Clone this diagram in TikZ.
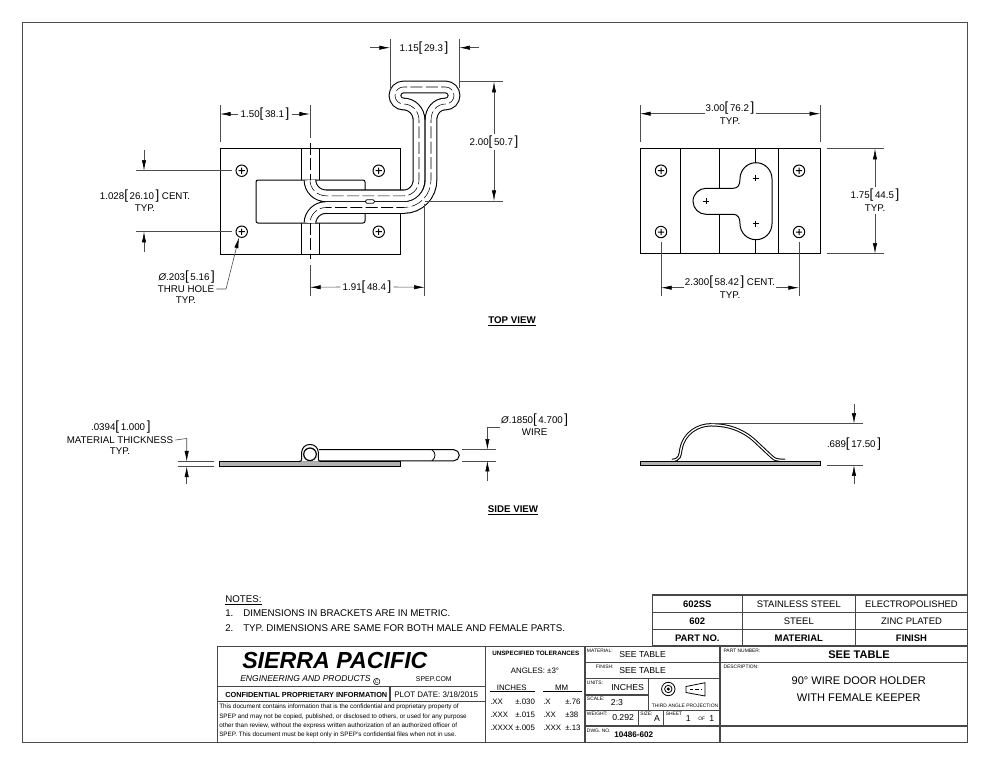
\documentclass[tikz,border=0pt]{standalone}
\usepackage{fontspec}
\setmainfont{Liberation Sans}
\usetikzlibrary{arrows.meta}
\newcommand{\fsz}[1]{\fontsize{#1}{#1}\selectfont}
\newcommand{\dimtxt}[2]{#1{\fsz{10}[}\,#2\,{\fsz{10}]}}
\newcommand{\wirepath}{(310,180) .. controls (310,188.8) and (317.2,195.8) .. (326,195.8) -- (404,195.8)
	.. controls (412.5,195.8) and (419,188.5) .. (419,180) -- (419,120)
	.. controls (419,111) and (412,104) .. (403.5,104) .. controls (398.8,104) and (395,100.2) .. (395,95.5)
	.. controls (395,90.8) and (398.8,87) .. (403.5,87) -- (445.5,87)
	.. controls (450.2,87) and (454,90.8) .. (454,95.5) .. controls (454,100.2) and (450.2,104) .. (445.5,104)
	.. controls (437,104) and (431,111) .. (431,120) -- (431,180)
	.. controls (431,195) and (419,207.5) .. (404,207.5) -- (326,207.5)
	.. controls (317.2,207.5) and (310,214.8) .. (310,223)}
\tikzset{
	part/.style={line width=.75pt},
	wire/.style={double=white,double distance=7.9pt,line width=.8pt},
	sheet/.style={double=white,double distance=1pt,line width=.75pt},
	hidden/.style={line width=.4pt,dash pattern=on 9pt off 2.5pt},
	ext/.style={line width=.45pt,black!70},
	dimarrow/.style={line width=.45pt,black!70,-{Latex[length=8pt,width=3.2pt,black]}},
	grid/.style={line width=.8pt,black!72},
	lbl/.style={inner sep=1.5pt,font=\fsz{7.3}},
	tiny/.style={inner sep=0pt,anchor=west,font=\fsz{3.7}},
	fine/.style={inner sep=0pt,anchor=west,font=\fsz{4.75}},
	tol/.style={inner sep=0pt,anchor=west,font=\fsz{5.9}},
	cell/.style={inner sep=0pt,font=\fsz{7.1}},
	cellb/.style={inner sep=0pt,font=\fsz{7.1}\bfseries}
}
\begin{document}
\begin{tikzpicture}[x=.75pt,y=-.75pt]
	\useasboundingbox (0,0) rectangle (990,765);
	\draw [line width=.7pt,black!70] (22.5,22.5) rectangle (967.3,742.5);

	% top view, male part
	\draw [part] (220,148) rectangle (400,254);
	\draw [part] (301,148) -- (301,180) (319,148) -- (319,180);
	\draw [part] (301,223) -- (301,254) (319,223) -- (319,254);
	\draw [part,rounded corners=1.5pt,fill=white] (256,180) rectangle (365,223);
	\foreach \x/\y in {241.7/170.7,378.7/170.7,241.7/231.7,378.7/231.7,661/170.7,799/170.7,661/232,799/232}
		\draw [part] (\x,\y) circle (5.7) (\x-3.2,\y) -- (\x+3.2,\y) (\x,\y-3.2) -- (\x,\y+3.2);
	\draw [wire] \wirepath;
	\draw [hidden] \wirepath;
	\draw [hidden] (310,143) -- (310,180) (310,223) -- (310,259);
	\draw [part,line width=.5pt,fill=white,rounded corners=1pt] (365.5,199.8) rectangle (374.5,203.2);

	% top view, keeper
	\draw [part] (640,148.7) rectangle (820.3,253.7);
	\draw [part] (680,148.7) -- (680,253.7) (778,148.7) -- (778,253.7);
	\draw [part] (719,148.7) -- (719,188.3) (719,214.3) -- (719,253.7);
	\draw [part] (755.7,148.7) -- (755.7,162.7) (755.7,239.7) -- (755.7,253.7);
	\draw [part] (706,188.3) -- (733,188.3) .. controls (738,188.3) and (740,185) .. (740,179)
		.. controls (740,170) and (747,162.7) .. (756,162.7) .. controls (765,162.7) and (772,170) .. (772,179)
		-- (772,223.7) .. controls (772,232.5) and (765,239.7) .. (756,239.7) .. controls (747,239.7) and (740,232.5) .. (740,223.7)
		.. controls (740,218) and (738,214.3) .. (733,214.3) -- (706,214.3)
		.. controls (699,214.3) and (693,208.5) .. (693,201.3) .. controls (693,194) and (699,188.3) .. (706,188.3) -- cycle;
	\foreach \x/\y in {755.7/178.3,755.7/223.7,706/201}
		\draw [line width=.45pt] (\x-3,\y) -- (\x+3,\y) (\x,\y-3) -- (\x,\y+3);

	% top view dimensions
	\node [lbl] (d115) at (424,47.7) {\dimtxt{1.15}{29.3}};
	\draw [ext] (390,39) -- (390,88) (459.3,39) -- (459.3,88);
	\draw [dimarrow] (370,47.7) -- (390,47.7);
	\draw [dimarrow] (479,47.7) -- (459.3,47.7);
	\node [lbl] (d150) at (265,114) {\dimtxt{1.50}{38.1}};
	\draw [ext] (220,105) -- (220,141.7) (310,105) -- (310,138);
	\draw [dimarrow] (d150.west) -- (220,114);
	\draw [dimarrow] (d150.east) -- (310,114);
	\node [lbl] (d200) at (494,142) {\dimtxt{2.00}{50.7}};
	\draw [ext] (460,81.7) -- (503,81.7) (425,201) -- (503,201);
	\draw [dimarrow] (d200.north) -- (494,81.7);
	\draw [dimarrow] (d200.south) -- (494,201);
	\node [lbl] (d191) at (367,287) {\dimtxt{1.91}{48.4}};
	\draw [ext] (310,265) -- (310,296) (424.7,204) -- (424.7,296);
	\draw [dimarrow] (d191.west) -- (310,287.3);
	\draw [dimarrow] (d191.east) -- (424.7,287.3);
	\node [lbl] (d1028) at (145,196) {\dimtxt{1.028}{26.10} CENT.};
	\node [lbl] (d1028t) at (145,208) {TYP.};
	\draw [ext] (136,170.7) -- (232,170.7) (136,231.7) -- (232,231.7);
	\draw [dimarrow] (144,150) -- (144,170.7);
	\draw [dimarrow] (144,252) -- (144,231.7);
	\node [lbl] (dhole) at (186.7,276.7) {\textit{Ø}.\dimtxt{203}{5.16}};
	\node [lbl] (dthru) at (186,289) {THRU HOLE};
	\node [lbl] (dthrut) at (186,300.5) {TYP.};
	\draw [dimarrow] (dthru.east) -- (226,289) -- (239,237.5);
	\node [lbl] (d300) at (730,108) {\dimtxt{3.00}{76.2}};
	\node [lbl] (d300t) at (730,120.7) {TYP.};
	\draw [ext] (640,105) -- (640,141.7) (820.3,105) -- (820.3,141.7);
	\draw [dimarrow] (705,113.7) -- (640,113.7);
	\draw [dimarrow] (755.7,113.7) -- (820.3,113.7);
	\node [lbl] (d175) at (875,195.5) {\dimtxt{1.75}{44.5}};
	\node [lbl] (d175t) at (875,208) {TYP.};
	\draw [ext] (826.7,148.7) -- (884,148.7) (826.7,253.7) -- (884,253.7);
	\draw [dimarrow] (d175.north) -- (875,148.7);
	\draw [dimarrow] (d175t.south) -- (875,253.7);
	\node [lbl] (d2300) at (730,281.7) {\dimtxt{2.300}{58.42} CENT.};
	\node [lbl] (d2300t) at (730,295) {TYP.};
	\draw [ext] (661,241.7) -- (661,296) (799,241.7) -- (799,296);
	\draw [dimarrow] (684,287.7) -- (661,287.7);
	\draw [dimarrow] (776,287.7) -- (799,287.7);
	\node [lbl,font=\fsz{7.3}\bfseries] (topview) at (512,321) {\underline{TOP VIEW}};

	% side view, male part
	\draw [part,line width=.6pt,fill=black!30] (219.5,461.6) rectangle (400,466.4);
	\draw [part,fill=white] (319,449.7) -- (453.8,449.7) .. controls (456.8,449.7) and (459.3,452.2) .. (459.3,455.2)
		.. controls (459.3,458.3) and (456.8,460.8) .. (453.8,460.8) -- (319,460.8);
	\draw [part,line width=.6pt] (432,449.7) .. controls (436,453) and (436,457.5) .. (432,460.8);
	\draw [part,fill=white] (299,461.6) .. controls (303,461.6) and (301.5,457) .. (301.5,453)
		.. controls (302,447.5) and (305,444.5) .. (310,444.5) .. controls (315,444.5) and (318,447.5) .. (318.5,453)
		.. controls (318.5,457) and (317,461.6) .. (321,461.6);
	\draw [part,line width=.9pt] (310,454.3) circle (6.3);
	\node [lbl] (d0394) at (120.8,427) {\dimtxt{.0394}{1.000}};
	\node [lbl] (dmat) at (120,440) {MATERIAL THICKNESS};
	\node [lbl] (dmatt) at (120,451) {TYP.};
	\draw [ext] (178,461.6) -- (213.7,461.6) (178,466.4) -- (213.7,466.4);
	\draw [dimarrow] (dmat.east) -- (186.7,438.5) -- (186.7,461.6);
	\draw [dimarrow] (186.7,484) -- (186.7,466.4);
	\node [lbl] (dwire) at (534.7,420) {\textit{Ø}.\dimtxt{1850}{4.700}};
	\node [lbl] (dwiret) at (534.7,432) {WIRE};
	\draw [ext] (462,449.7) -- (496,449.7) (462,460.8) -- (496,460.8);
	\draw [dimarrow] (500,427) -- (487.4,427) -- (487.4,449.7);
	\draw [dimarrow] (487.4,481) -- (487.4,460.8);

	% side view, keeper
	\draw [part,line width=.6pt,fill=black!30] (640.3,460.9) rectangle (820.7,465.3);
	\draw [sheet] (672,460.3) .. controls (680,460.3) and (680,455) .. (681,449)
		.. controls (684,433) and (698,424.8) .. (711,424.8) .. controls (730,424.8) and (745,431) .. (757,443)
		-- (772,457) .. controls (775,460) and (778,460.3) .. (785,460.3);
	\node [lbl] (d689) at (854,444) {\dimtxt{.689}{17.50}};
	\draw [ext] (711,423.7) -- (862.7,423.7) (827,465.2) -- (862.7,465.2);
	\draw [dimarrow] (854,404) -- (854,423.7);
	\draw [dimarrow] (854,484) -- (854,465.2);
	\node [lbl,font=\fsz{7.3}\bfseries] (sideview) at (513,510.5) {\underline{SIDE VIEW}};

	% notes
	\node [lbl,anchor=west,inner sep=0pt] (notes) at (225,600) {\underline{NOTES:}};
	\node [lbl,anchor=west,inner sep=0pt] (n1) at (225,613.5) {1.};
	\node [lbl,anchor=west,inner sep=0pt] (n1t) at (243,613.5) {DIMENSIONS IN BRACKETS ARE IN METRIC.};
	\node [lbl,anchor=west,inner sep=0pt] (n2) at (225,628) {2.};
	\node [lbl,anchor=west,inner sep=0pt] (n2t) at (243,628) {TYP. DIMENSIONS ARE SAME FOR BOTH MALE AND FEMALE PARTS.};

	% finish table
	\draw [grid] (652.3,595) rectangle (967.3,646);
	\draw [grid] (652.3,612.7) -- (967.3,612.7) (652.3,629.3) -- (967.3,629.3);
	\draw [grid] (742.3,595) -- (742.3,646) (855.3,595) -- (855.3,646);
	\node [cellb] (p1) at (697.3,604) {602SS};
	\node [cell] (m1) at (798.8,604) {STAINLESS STEEL};
	\node [cell] (f1) at (911.5,604) {ELECTROPOLISHED};
	\node [cellb] (p2) at (697.3,621) {602};
	\node [cell] (m2) at (798.8,621) {STEEL};
	\node [cell] (f2) at (911.5,621) {ZINC PLATED};
	\node [cellb] (p3) at (697.3,638) {PART NO.};
	\node [cellb] (m3) at (798.8,638) {MATERIAL};
	\node [cellb] (f3) at (911.5,638) {FINISH};

	% title block
	\draw [grid] (217.3,646.5) rectangle (967.3,742.5);
	\draw [grid] (485.3,646.5) -- (485.3,742.5) (585,646.5) -- (585,742.5) (720,646.5) -- (720,742.5);
	\draw [grid] (217.3,686.7) -- (485.3,686.7) (217.3,701.7) -- (485.3,701.7) (390,686.7) -- (390,701.7);
	\draw [grid] (585,662.7) -- (967.3,662.7) (585,678.3) -- (720,678.3);
	\draw [grid] (585,695) -- (648.3,695) (585,710.7) -- (720,710.7) (648.3,678.3) -- (648.3,710.7);
	\draw [grid] (585,726) -- (967.3,726) (638.3,710.7) -- (638.3,726) (663.3,710.7) -- (663.3,726);

	\node [inner sep=0pt,anchor=west,font=\fsz{17.4}\bfseries\itshape] (spname) at (242,661) {SIERRA PACIFIC};
	\node [inner sep=0pt,anchor=west,font=\fsz{6.4}\itshape] (spsub) at (240,679) {ENGINEERING AND PRODUCTS};
	\draw [line width=.4pt] (376.7,681.5) circle (3.2);
	\node [inner sep=0pt,font=\fsz{3.7}] (spc) at (376.7,681.5) {C};
	\node [inner sep=0pt,anchor=west,font=\fsz{5.2}] (spurl) at (415.7,679) {SPEP.COM};
	\node [inner sep=0pt,anchor=west,font=\fsz{5.5}\bfseries] (conf) at (225,695) {CONFIDENTIAL PROPRIETARY INFORMATION};
	\node [inner sep=0pt,anchor=west,font=\fsz{6}] (plot) at (394,695) {PLOT DATE: 3/18/2015};
	\node [fine] (b1) at (219,707) {This document contains information that is the confidential and proprietary property of};
	\node [fine] (b2) at (219,716.5) {SPEP and may not be copied, published, or disclosed to others, or used for any purpose};
	\node [fine] (b3) at (219,725.7) {other than review, without the express written authorization of an authorized officer of};
	\node [fine] (b4) at (219,734.8) {SPEP. This document must be kept only in SPEP's confidential files when not in use.};

	\node [inner sep=0pt,anchor=west,font=\fsz{4.7}\bfseries] (tolh) at (492,653.3) {UNSPECIFIED TOLERANCES};
	\node [tol,anchor=center] (tola) at (535,670.7) {ANGLES: ±3°};
	\node [tol,anchor=center] (tolin) at (511.7,687.7) {INCHES};
	\node [tol,anchor=center] (tolmm) at (561.7,687.7) {MM};
	\draw [line width=.5pt] (490,691) -- (535,691) (543,691) -- (581.7,691);
	\foreach \y/\a/\b/\c/\d in {701.7/.XX/±.030/.X/±.76,714.7/.XXX/±.015/.XX/±38,727.3/.XXXX/±.005/.XXX/±.13} {
		\node [tol] at (490,\y) {\a};
		\node [tol] at (515,\y) {\b};
		\node [tol] at (543,\y) {\c};
		\node [tol] at (565,\y) {\d};
	}

	\node [tiny] (lmat) at (586.7,651) {MATERIAL:};
	\node [inner sep=0pt,anchor=west,font=\fsz{6.5}] (vmat) at (619,655) {SEE TABLE};
	\node [tiny] (lfin) at (595.7,667) {FINISH:};
	\node [inner sep=0pt,anchor=west,font=\fsz{6.5}] (vfin) at (619,671) {SEE TABLE};
	\node [tiny] (luni) at (586.7,683) {UNITS:};
	\node [inner sep=0pt,anchor=west,font=\fsz{6.5}] (vuni) at (611,687.3) {INCHES};
	\node [tiny] (lsca) at (586.7,699) {SCALE:};
	\node [inner sep=0pt,anchor=west,font=\fsz{6.5}] (vsca) at (610.7,702.7) {2:3};
	\node [tiny] (lwei) at (586.7,714) {WEIGHT:};
	\node [inner sep=0pt,anchor=west,font=\fsz{6.5}] (vwei) at (612,718) {0.292};
	\node [tiny] (lsiz) at (640,714) {SIZE:};
	\node [inner sep=0pt,font=\fsz{6.5}] (vsiz) at (657,719) {A};
	\node [tiny] (lshe) at (665.5,714) {SHEET};
	\node [inner sep=0pt,font=\fsz{6.5}] (vsh1) at (688.3,719) {1};
	\node [inner sep=0pt,font=\fsz{3.7}] (lof) at (701.7,719) {OF};
	\node [inner sep=0pt,font=\fsz{6.5}] (vsh2) at (711.7,719) {1};
	\node [tiny] (ldwg) at (586.7,731) {DWG. NO.};
	\node [inner sep=0pt,anchor=west,font=\fsz{6.1}\bfseries] (vdwg) at (614,734.7) {10486-602};

	% projection symbol
	\draw [line width=.6pt] (668.3,689) circle (6.7) (668.3,689) circle (3.7);
	\fill (668.3,689) circle (1.7);
	\draw [line width=.6pt] (686,686.5) -- (705,682.7) -- (705,696) -- (686,692.5) -- cycle;
	\draw [line width=.4pt,dash pattern=on 2.5pt off 1.5pt] (690,689.3) -- (702,689.3);
	\node [inner sep=0pt,font=\fsz{3.7}] (lthird) at (685,705.3) {THIRD ANGLE PROJECTION};

	\node [tiny] (lpn) at (723.3,651) {PART NUMBER:};
	\node [inner sep=0pt,font=\fsz{8.3}\bfseries] (vpn) at (859,655) {SEE TABLE};
	\node [tiny] (ldes) at (723.3,667) {DESCRIPTION:};
	\node [inner sep=0pt,font=\fsz{8.3}] (vdes1) at (858.7,680.7) {90° WIRE DOOR HOLDER};
	\node [inner sep=0pt,font=\fsz{8.3}] (vdes2) at (858.7,697.3) {WITH FEMALE KEEPER};
\end{tikzpicture}
\end{document}
